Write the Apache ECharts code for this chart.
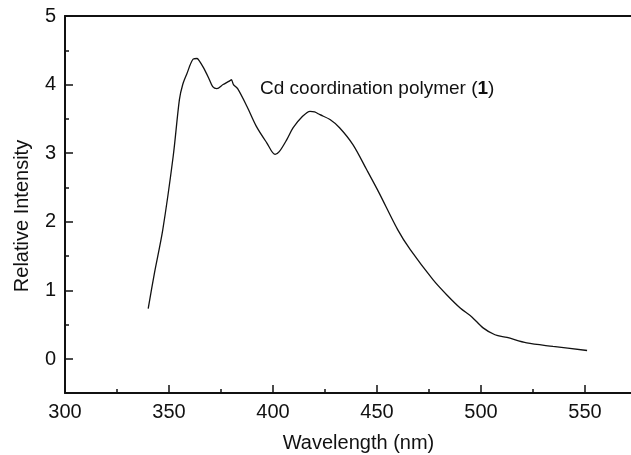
<!DOCTYPE html>
<html>
<head>
<meta charset="utf-8">
<style>
  html, body { margin: 0; padding: 0; background: #fff; }
  #chart { width: 631px; height: 455px; }
</style>
<script src="https://cdn.jsdelivr.net/npm/echarts@6/dist/echarts.min.js"></script>
</head>
<body>
<div id="chart"></div>
<script>
// emission spectrum
const wavelength = [340, 343, 347, 352, 355, 356.6, 358.5, 361.6, 363.5, 364.5, 366.5, 369, 371, 373, 376, 379, 380, 381, 383, 387.5, 392, 397, 401, 403, 406.7, 409.7, 414, 417.8, 420, 422.6, 427.4, 432, 438.5, 445, 451, 460, 466, 477, 483.6, 490, 495.6, 501, 506.7, 512.5, 522, 534.6, 551]
const intensity = [0.73, 1.25, 1.88, 2.95, 3.78, 4.0, 4.15, 4.37, 4.38, 4.35, 4.25, 4.1, 3.97, 3.94, 4.0, 4.05, 4.07, 4.0, 3.94, 3.68, 3.39, 3.15, 2.98, 3.02, 3.2, 3.37, 3.53, 3.61, 3.6, 3.56, 3.49, 3.37, 3.12, 2.76, 2.42, 1.88, 1.59, 1.15, 0.93, 0.74, 0.61, 0.45, 0.35, 0.31, 0.23, 0.18, 0.12]

const xTicks = { min: 300, max: 600, step: 50 }
const yTicks = { min: 0, max: 5, step: 1 }
const yRange = { min: -0.5, max: 5 }

const ink = '#111'
const font = 'Liberation Sans, Arial, sans-serif'

const chart = echarts.init(document.getElementById('chart'))

chart.setOption({
  animation: false,
  backgroundColor: '#fff',
  title: {
    text: '{a|Cd coordination polymer (}{b|1}{a|)}',
    left: 255,
    top: 74,
    textStyle: {
      fontWeight: 'normal',
      rich: {
        a: { fontSize: 19, color: ink, fontFamily: font, fontWeight: 'normal' },
        b: { fontSize: 19, color: ink, fontFamily: font, fontWeight: 'bold' },
      },
    },
  },
  grid: [
    // plot frame, x axis runs past the right edge like the scan
    { left: 65, right: -58, top: 16, bottom: 62, outerBoundsMode: 'none', containLabel: false },
    // y tick grid: starts at 0 so ticks land on integers
    { left: 65, right: -58, top: 16, bottom: 96, outerBoundsMode: 'none', containLabel: false },
  ],
  xAxis: [
    {
      gridIndex: 0,
      type: 'value',
      min: xTicks.min,
      max: xTicks.max,
      interval: xTicks.step,
      name: 'Wavelength (nm)',
      nameLocation: 'middle',
      nameGap: 40,
      nameTextStyle: { fontSize: 20, color: ink, fontFamily: font, padding: [0, 37, 0, 0] },
      axisLine: { onZero: false, lineStyle: { color: ink, width: 2 } },
      axisTick: { inside: true, length: 8, lineStyle: { color: ink, width: 1.5 } },
      minorTick: { show: true, splitNumber: 2, length: 4, lineStyle: { color: ink, width: 1.5 } },
      axisLabel: { fontSize: 20, color: ink, fontFamily: font, margin: 9 },
      splitLine: { show: false },
    },
    {
      gridIndex: 0,
      type: 'value',
      position: 'top',
      min: xTicks.min,
      max: xTicks.max,
      axisLine: { show: true, onZero: false, lineStyle: { color: ink, width: 2 } },
      axisTick: { show: false },
      axisLabel: { show: false },
      splitLine: { show: false },
    },
    {
      gridIndex: 1,
      type: 'value',
      show: false,
      min: xTicks.min,
      max: xTicks.max,
    },
  ],
  yAxis: [
    {
      gridIndex: 0,
      type: 'value',
      min: yRange.min,
      max: yRange.max,
      name: 'Relative Intensity',
      nameLocation: 'middle',
      nameGap: 33,
      nameTextStyle: { fontSize: 20, color: ink, fontFamily: font, padding: [0, 23, 0, 0] },
      axisLine: { show: true, onZero: false, lineStyle: { color: ink, width: 2 } },
      axisTick: { show: false },
      axisLabel: { show: false },
      splitLine: { show: false },
    },
    {
      gridIndex: 1,
      type: 'value',
      min: yTicks.min,
      max: yTicks.max,
      interval: yTicks.step,
      axisLine: { show: false, onZero: false },
      axisTick: { inside: true, length: 8, lineStyle: { color: ink, width: 1.5 } },
      minorTick: { show: true, splitNumber: 2, length: 4, lineStyle: { color: ink, width: 1.5 } },
      axisLabel: { fontSize: 20, color: ink, fontFamily: font, margin: 9 },
      splitLine: { show: false },
    },
  ],
  series: [
    {
      type: 'line',
      xAxisIndex: 0,
      yAxisIndex: 0,
      data: wavelength.map((w, i) => [w, intensity[i]]),
      showSymbol: false,
      smooth: 0.3,
      lineStyle: { color: ink, width: 1.3 },
    },
  ],
})
</script>
</body>
</html>
